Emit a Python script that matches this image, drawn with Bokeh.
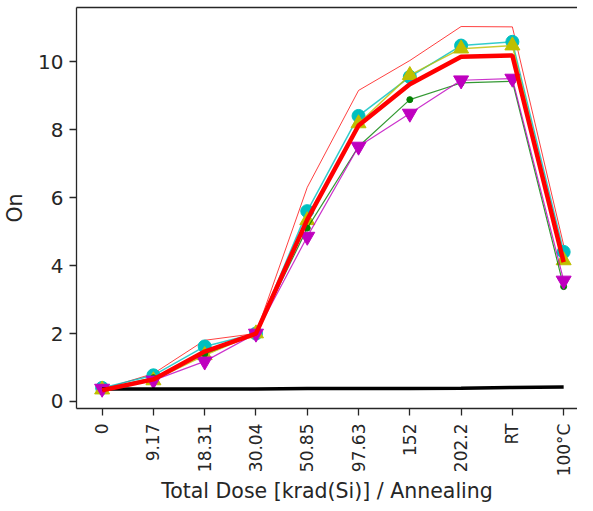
from bokeh.plotting import figure
from bokeh.models import Range1d, FixedTicker, LinearAxis
from bokeh.embed import file_html
from bokeh.resources import INLINE

categories = ["0", "9.17", "18.31", "30.04", "50.85", "97.63", "152", "202.2", "RT", "100°C"]
red_thin = [0.36, 0.82, 1.8, 2.0, 6.3, 9.15, 10.03, 11.03, 11.02, 4.6]
cyan = [0.4, 0.77, 1.62, 2.0, 5.6, 8.4, 9.55, 10.47, 10.58, 4.4]
yellow = [0.35, 0.62, 1.36, 2.0, 5.33, 8.18, 9.6, 10.38, 10.47, 4.15]
green = [0.36, 0.7, 1.4, 2.0, 5.1, 7.5, 8.88, 9.37, 9.42, 3.38]
magenta = [0.38, 0.62, 1.18, 2.0, 4.85, 7.5, 8.47, 9.45, 9.5, 3.56]
red_thick = [0.33, 0.65, 1.47, 2.0, 5.35, 8.12, 9.33, 10.14, 10.18, 4.1]
black = [0.37, 0.37, 0.37, 0.37, 0.38, 0.38, 0.38, 0.39, 0.41, 0.43]
y_ticks = [0, 2, 4, 6, 8, 10]

x = list(range(len(categories)))

FONT = "DejaVu Sans"
AX = "#262626"
p = figure(width=577, height=508, output_backend="svg", toolbar_location=None,
           x_range=Range1d(-0.5, 9.27), y_range=Range1d(-0.206, 11.59),
           min_border_left=69, min_border_right=0, min_border_top=7, min_border_bottom=100)
p.grid.visible = False
p.outline_line_color = None

p.line(x, red_thin, line_color="red", line_width=1, line_alpha=0.75)
p.line(x, cyan, line_color="#00bfbf", line_width=1.5, line_alpha=0.8)
p.scatter(x, cyan, marker="circle", size=13, fill_color="#00bfbf", line_color="#00bfbf")
p.line(x, yellow, line_color="#bfbf00", line_width=1.5, line_alpha=0.8)
p.scatter(x, yellow, marker="triangle", size=15, fill_color="#bfbf00", line_color="#bfbf00")
p.line(x, green, line_color="#008000", line_width=1.2, line_alpha=0.8)
p.scatter(x, green, marker="circle", size=6, fill_color="#008000", line_color="#008000")
p.line(x, magenta, line_color="#bf00bf", line_width=1.2, line_alpha=0.8)
p.scatter(x, magenta, marker="inverted_triangle", size=15, fill_color="#bf00bf", line_color="#bf00bf")
p.line(x, black, line_color="black", line_width=3.5)
p.line(x, red_thick, line_color="red", line_width=4.5)

xax = p.below[0]
yax = p.left[0]

xax.ticker = FixedTicker(ticks=x)
xax.major_label_overrides = {i: c for i, c in enumerate(categories)}
xax.major_label_orientation = 1.5708
yax.ticker = FixedTicker(ticks=y_ticks)
xax.axis_label = "Total Dose [krad(Si)] / Annealing"
yax.axis_label = "On"

for ax in (xax, yax):
    ax.axis_line_color = AX
    ax.axis_line_width = 1.3
    ax.major_tick_line_color = AX
    ax.major_tick_line_width = 1.3
    ax.major_tick_out = 7
    ax.major_tick_in = 0
    ax.minor_tick_line_color = None
    ax.major_label_text_font = FONT
    ax.major_label_text_color = AX
    ax.axis_label_text_font = FONT
    ax.axis_label_text_font_size = "20.5px"
    ax.axis_label_text_font_style = "normal"
    ax.axis_label_text_color = AX

xax.major_label_text_font_size = "17px"
xax.major_label_standoff = 8
xax.axis_label_standoff = 0
yax.major_label_text_font_size = "20px"
yax.major_label_standoff = 6
yax.axis_label_standoff = 8

top = LinearAxis(ticker=FixedTicker(ticks=[]), major_tick_out=0, major_tick_in=0,
                 major_label_text_font_size="0px", major_label_standoff=0,
                 axis_line_color=AX, axis_line_width=1.3, minor_tick_line_color=None)
p.add_layout(top, "above")

open("out.html", "w").write(file_html(p, INLINE))
